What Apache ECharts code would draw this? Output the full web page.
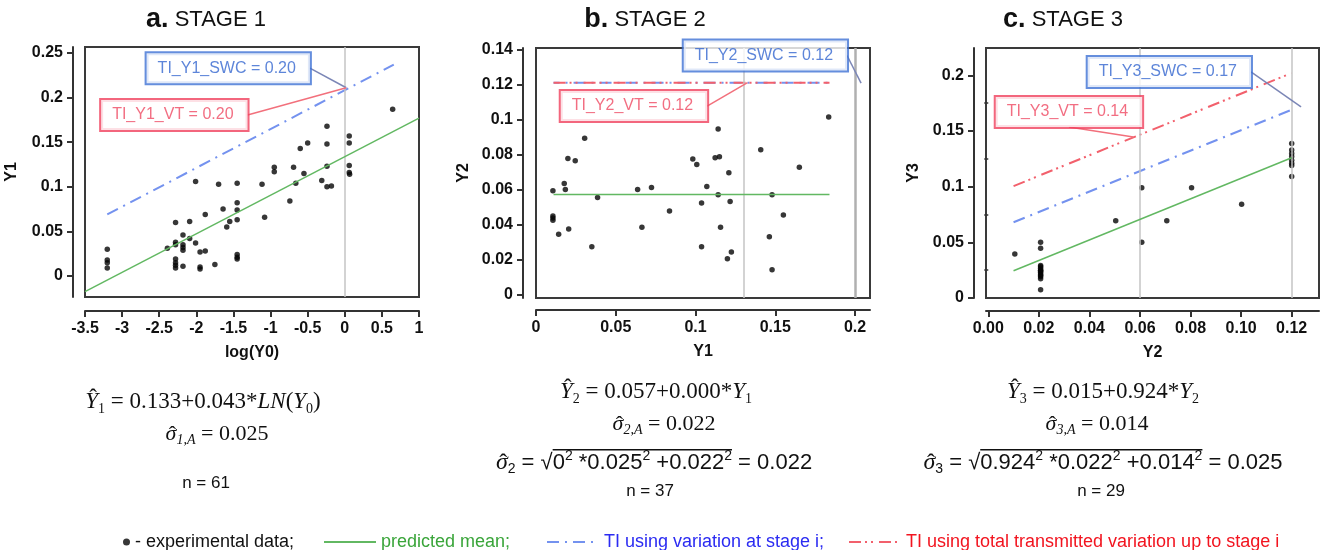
<!DOCTYPE html>
<html><head><meta charset="utf-8">
<script src="https://cdn.jsdelivr.net/npm/echarts@6/dist/echarts.min.js"></script>
<style>html,body{margin:0;padding:0;background:#fff}#c{width:1328px;height:550px}</style>
</head><body><div id="c"></div>
<script>
// ===================== DATA =====================
const stage1Points = [
  [-3.2,0.030],[-3.2,0.018],[-3.2,0.015],[-3.2,0.009],
  [-2.39,0.031],
  [-2.28,0.060],[-2.28,0.038],[-2.28,0.035],[-2.28,0.019],[-2.28,0.015],[-2.28,0.012],[-2.28,0.009],
  [-2.18,0.046],[-2.18,0.035],[-2.18,0.032],[-2.18,0.029],[-2.18,0.011],
  [-2.09,0.061],[-2.09,0.042],
  [-2.01,0.106],[-2.01,0.037],
  [-1.95,0.027],[-1.95,0.010],[-1.95,0.008],
  [-1.88,0.069],[-1.88,0.028],
  [-1.75,0.013],[-1.70,0.103],[-1.64,0.075],[-1.59,0.055],[-1.55,0.061],
  [-1.45,0.104],[-1.45,0.082],[-1.45,0.074],[-1.45,0.063],[-1.45,0.024],[-1.45,0.021],[-1.45,0.019],
  [-1.115,0.103],[-1.08,0.066],
  [-0.95,0.122],[-0.95,0.117],
  [-0.74,0.084],[-0.69,0.122],[-0.66,0.104],[-0.60,0.143],[-0.55,0.115],[-0.50,0.149],
  [-0.31,0.107],
  [-0.24,0.168],[-0.24,0.148],[-0.24,0.123],[-0.24,0.100],[-0.18,0.101],
  [0.06,0.157],[0.06,0.149],[0.06,0.124],[0.06,0.116],[0.065,0.114],
  [0.645,0.187]
];
const stage2Points = [
  [0.0106,0.0592],[0.0106,0.0447],[0.0106,0.0436],[0.0106,0.0423],
  [0.0142,0.0344],[0.0177,0.0633],[0.0184,0.0599],[0.020,0.0776],[0.0205,0.0374],
  [0.0246,0.0764],[0.0305,0.0892],[0.035,0.0272],[0.0386,0.0554],
  [0.0637,0.0599],[0.0664,0.0383],[0.0724,0.0610],[0.0837,0.0477],
  [0.0983,0.0774],[0.1008,0.0742],[0.1038,0.0522],[0.1038,0.0272],[0.1071,0.0616],
  [0.1123,0.0781],[0.115,0.0787],[0.1142,0.0945],[0.1142,0.0569],[0.1157,0.0383],
  [0.1209,0.0695],[0.1217,0.0530],[0.120,0.0203],[0.1225,0.0242],
  [0.1409,0.0826],[0.1463,0.0329],[0.148,0.0569],[0.148,0.0141],
  [0.1551,0.0454],[0.1651,0.0727],[0.1835,0.1014]
];
const stage3Points = [
  [0.0105,0.0396],
  [0.0207,0.050],[0.0207,0.0446],[0.0207,0.0292],[0.0207,0.028],[0.0207,0.0268],[0.0207,0.025],
  [0.0207,0.0247],[0.0207,0.0235],[0.0207,0.0226],[0.0207,0.021],[0.0207,0.0202],[0.0207,0.019],
  [0.0207,0.0173],[0.0207,0.0074],
  [0.0504,0.0693],[0.0607,0.0991],[0.0607,0.050],[0.0706,0.0693],[0.0804,0.0991],[0.1002,0.0842],
  [0.120,0.1387],[0.120,0.133],[0.120,0.1298],[0.120,0.127],[0.120,0.1238],[0.120,0.121],[0.120,0.119],[0.120,0.109]
];
const stage1Mean    = [[-3.5,-0.0175],[1.0,0.177]];
const stage1TiStage = [[-3.2,0.069],[0.66,0.237]];
const stage2Mean    = [[0.011,0.057],[0.184,0.057]];
const stage2TiStage = [[0.011,0.121],[0.184,0.121]];
const stage2TiTotal = [[0.011,0.121],[0.184,0.121]];
const stage3Mean    = [[0.010,0.0245],[0.120,0.126]];
const stage3TiStage = [[0.010,0.068],[0.121,0.170]];
const stage3TiTotal = [[0.010,0.1005],[0.120,0.202]];
const refLines1 = [0];
const refLines2 = [0.1326, 0.2021];
const refLines3 = [0.0574, 0.122];
const ticks1X = [-3.5,-3,-2.5,-2,-1.5,-1,-0.5,0,0.5,1];
const ticks1Y = [0,0.05,0.1,0.15,0.2,0.25];
const ticks2X = [0,0.05,0.1,0.15,0.2];
const ticks2Y = [0,0.02,0.04,0.06,0.08,0.1,0.12,0.14];
const ticks3X = [0,0.02,0.04,0.06,0.08,0.1,0.12];
const ticks3Y = [0,0.05,0.1,0.15,0.2];
const ticks3YMinor = [0.025,0.075,0.125,0.175];
const annotations = [
  {panel:0, kind:'swc', text:'TI_Y1_SWC = 0.20', box:[-0.47,0.233],  pos:'left', anchor:[0.02,0.211]},
  {panel:0, kind:'vt',  text:'TI_Y1_VT = 0.20',  box:[-1.31,0.1805], pos:'left', anchor:[0.02,0.211]},
  {panel:1, kind:'swc', text:'TI_Y2_SWC = 0.12', box:[0.195,0.1365], pos:'left', anchor:[0.2038,0.1207]},
  {panel:1, kind:'vt',  text:'TI_Y2_VT = 0.12',  box:[0.1073,0.1076],pos:'left', anchor:[0.1326,0.121]},
  {panel:2, kind:'swc', text:'TI_Y3_SWC = 0.17', box:[0.1039,0.203], pos:'left', anchor:[0.1237,0.1717]},
  {panel:2, kind:'vt',  text:'TI_Y3_VT = 0.14',  box:[0.0319,0.1536],pos:'top',  anchor:[0.0574,0.1445]}
];
// =======================================================================

const SANS = "'Liberation Sans', Arial, sans-serif";
const SERIF = "'Liberation Serif', 'Times New Roman', serif";
const GREEN = '#62b862', BLUE = '#7492ef', RED = '#f2606c';
const N_PTS = '- experimental data;', N_MEAN = 'predicted mean;',
      N_SWC = 'TI using variation at stage i;', N_VT = 'TI using total transmitted variation up to stage i';
const DASH_SWC = [12,6,2,6], DASH_VT = [12,4,2,4,2,6];

const grids = [
  {left:85, top:47, width:334, height:250},
  {left:536, top:48, width:334, height:250},
  {left:986, top:48, width:333, height:250}
].map(g => Object.assign({show:true, borderColor:'#3a3a3a', borderWidth:2, backgroundColor:'#fff'}, g));

const tickLabel = {color:'#111', fontSize:16, fontWeight:'bold', fontFamily:SANS};
const nameStyle = {color:'#111', fontSize:16, fontWeight:'bold', fontFamily:SANS};
function xAx(i, min, max, ticks, name, offset, fmt) {
  return {gridIndex:i, type:'value', min, max, position:'bottom', offset,
    axisLine:{show:true, onZero:false, lineStyle:{color:'#333', width:2}},
    axisTick:{show:true, length:6, lineStyle:{color:'#333', width:2}, customValues:ticks},
    axisLabel:Object.assign({customValues:ticks, margin:10, formatter:fmt}, tickLabel),
    splitLine:{show:false}, name, nameLocation:'middle', nameGap:34, nameTextStyle:nameStyle};
}
function yAx(i, min, max, ticks, name, offset, nameGap) {
  return {gridIndex:i, type:'value', min, max, position:'left', offset,
    axisLine:{show:true, onZero:false, lineStyle:{color:'#333', width:2}},
    axisTick:{show:true, length:6, lineStyle:{color:'#333', width:2}, customValues:ticks},
    axisLabel:Object.assign({customValues:ticks, margin:10}, tickLabel),
    splitLine:{show:false}, name, nameLocation:'middle', nameGap, nameTextStyle:nameStyle};
}
const xAxes = [
  xAx(0, -3.5, 1, ticks1X, 'log(Y0)', 14),
  xAx(1, 0, 0.2094, ticks2X, 'Y1', 12),
  xAx(2, -0.0009, 0.1308, ticks3X, 'Y2', 13, v => v.toFixed(2))
];
const yAxes = [
  yAx(0, -0.0235, 0.2567, ticks1Y, 'Y1', 12, 53),
  yAx(1, -0.0021, 0.1408, ticks2Y, 'Y2', 13, 51),
  yAx(2, 0, 0.2245, ticks3Y, 'Y3', 12, 52),
  {gridIndex:2, type:'value', min:0, max:0.2245, position:'left', offset:12,
   axisLine:{show:false}, axisTick:{show:true, length:4, lineStyle:{color:'#333', width:1.5}, customValues:ticks3YMinor},
   axisLabel:{show:false}, splitLine:{show:false}}
];

const series = [];
function panel(i, pts, mean, tiS, tiT, refs) {
  series.push({type:'scatter', name:N_PTS, xAxisIndex:i, yAxisIndex:i, data:pts, symbol:'circle', symbolSize:5.5,
    itemStyle:{color:'#050505'}, color:'#050505', z:3,
    markLine:{silent:true, symbol:['none','none'], label:{show:false},
      lineStyle:{color:'#c4c4c4', width:1.5, type:'solid'},
      data: refs.map((v, k) => (i === 1 && k === 1) ? {xAxis:v, lineStyle:{color:'#b0b0b0', width:2.5, type:'solid'}} : {xAxis:v})}});
  if (tiT) series.push({type:'line', name:N_VT, xAxisIndex:i, yAxisIndex:i, data:tiT, symbol:'none', color:RED,
    lineStyle:{color:RED, width:2, type:DASH_VT}, z:4});
  series.push({type:'line', name:N_SWC, xAxisIndex:i, yAxisIndex:i, data:tiS, symbol:'none', color:BLUE,
    lineStyle:{color:BLUE, width:2, type:DASH_SWC, dashOffset:(i===1?6:0)}, z:(i===1?3.5:4)});
  series.push({type:'line', name:N_MEAN, xAxisIndex:i, yAxisIndex:i, data:mean, symbol:'none', color:GREEN,
    lineStyle:{color:GREEN, width:1.5}, z:5});
}
panel(0, stage1Points, stage1Mean, stage1TiStage, null, refLines1);
panel(1, stage2Points, stage2Mean, stage2TiStage, stage2TiTotal, refLines2);
panel(2, stage3Points, stage3Mean, stage3TiStage, stage3TiTotal, refLines3);

annotations.forEach(a => {
  const isS = a.kind === 'swc';
  series.push({type:'line', name:'lead', xAxisIndex:a.panel, yAxisIndex:a.panel, data:[a.box, a.anchor],
    symbol:'none', silent:true, clip:false, lineStyle:{color:isS ? '#7b86b6' : '#f2707c', width:1.5}, z:9});
  series.push({type:'scatter', name:'box', xAxisIndex:a.panel, yAxisIndex:a.panel, data:[a.box], symbolSize:0,
    silent:true, z:10,
    label:{show:true, position:a.pos, distance:0, formatter:a.text, color:isS ? '#3566d0' : '#ef4a63',
      fontSize:16, fontFamily:SANS, backgroundColor:'#fff', borderColor:isS ? '#3f72d4' : '#f0405c',
      borderWidth:2, padding:[6,14,6,11], lineHeight:18}});
});

// ---------- formula / title text rows ----------
const mctx = document.createElement('canvas').getContext('2d');
function textRow(row) {
  const els = []; const items = []; let x = 0, ol0 = 0; const ols = [];
  row.parts.forEach(p => {
    if (p.ol === 'start') { ol0 = x; return; }
    if (p.ol === 'end') { ols.push([ol0, x]); return; }
    const small = p.sub || p.sup;
    const size = p.size || (small ? Math.round(row.size * 0.62) : row.size);
    const fam = p.fam || row.fam;
    const font = (p.it ? 'italic ' : 'normal ') + (p.b ? 'bold ' : 'normal ') + size + 'px ' + fam;
    mctx.font = font;
    const w = mctx.measureText(p.t).width;
    const dy = p.sub ? row.size * 0.3 : p.sup ? -row.size * 0.32 : 0;
    items.push({x, w, p, font, dy, size, fam});
    x += w;
  });
  const x0 = row.cx - x / 2;
  items.forEach(it => {
    els.push({type:'text', silent:true, x:x0 + it.x, y:row.cy + it.dy,
      style:{text:it.p.t, font:it.font, fill:row.color || '#111', align:'left', verticalAlign:'middle'}});
    if (it.p.hat) {
      els.push({type:'text', silent:true, x:x0 + it.x + it.w / 2 + 1.5, y:row.cy - it.size * it.p.hat,
        style:{text:'\u02C6', font:'normal normal ' + it.size + 'px ' + SERIF, fill:'#111', align:'center', verticalAlign:'middle'}});
    }
  });
  ols.forEach(([a, b]) => els.push({type:'line', silent:true,
    shape:{x1:x0 + a, y1:row.cy - row.size * 0.6, x2:x0 + b, y2:row.cy - row.size * 0.6},
    style:{stroke:'#111', lineWidth:1.4}}));
  return els;
}
const HY = 0.12, HS = -0.05;
const rows = [
  {cx:206, cy:20, fam:SANS, size:22, parts:[{t:'a.', b:1, size:27}, {t:' STAGE 1'}]},
  {cx:645, cy:20, fam:SANS, size:22, parts:[{t:'b.', b:1, size:27}, {t:' STAGE 2'}]},
  {cx:1063, cy:20, fam:SANS, size:22, parts:[{t:'c.', b:1, size:27}, {t:' STAGE 3'}]},
  {cx:203, cy:402, fam:SERIF, size:23, parts:[{t:'Y', it:1, hat:HY}, {t:'1', sub:1}, {t:' = 0.133+0.043*'}, {t:'LN', it:1}, {t:'('}, {t:'Y', it:1}, {t:'0', sub:1}, {t:')'}]},
  {cx:217, cy:434, fam:SERIF, size:22, parts:[{t:'σ', it:1, hat:HS}, {t:'1,A', sub:1, it:1}, {t:' = 0.025'}]},
  {cx:206, cy:483, fam:SANS, size:17, parts:[{t:'n = 61'}]},
  {cx:656, cy:392, fam:SERIF, size:23, parts:[{t:'Y', it:1, hat:HY}, {t:'2', sub:1}, {t:' = 0.057+0.000*'}, {t:'Y', it:1}, {t:'1', sub:1}]},
  {cx:664, cy:424, fam:SERIF, size:22, parts:[{t:'σ', it:1, hat:HS}, {t:'2,A', sub:1, it:1}, {t:' = 0.022'}]},
  {cx:654, cy:463, fam:SANS, size:22, parts:[{t:'σ', it:1, hat:HS, fam:SERIF, size:24}, {t:'2', sub:1}, {t:' = '}, {t:'√'}, {ol:'start'}, {t:'0'}, {t:'2', sup:1}, {t:' *0.025'}, {t:'2', sup:1}, {t:' +0.022'}, {t:'2', sup:1}, {ol:'end'}, {t:' = 0.022'}]},
  {cx:650, cy:491, fam:SANS, size:17, parts:[{t:'n = 37'}]},
  {cx:1103, cy:392, fam:SERIF, size:23, parts:[{t:'Y', it:1, hat:HY}, {t:'3', sub:1}, {t:' = 0.015+0.924*'}, {t:'Y', it:1}, {t:'2', sub:1}]},
  {cx:1097, cy:424, fam:SERIF, size:22, parts:[{t:'σ', it:1, hat:HS}, {t:'3,A', sub:1, it:1}, {t:' = 0.014'}]},
  {cx:1103, cy:463, fam:SANS, size:22, parts:[{t:'σ', it:1, hat:HS, fam:SERIF, size:24}, {t:'3', sub:1}, {t:' = '}, {t:'√'}, {ol:'start'}, {t:'0.924'}, {t:'2', sup:1}, {t:' *0.022'}, {t:'2', sup:1}, {t:' +0.014'}, {t:'2', sup:1}, {ol:'end'}, {t:' = 0.025'}]},
  {cx:1101, cy:491, fam:SANS, size:17, parts:[{t:'n = 29'}]}
];
const graphics = [];
rows.forEach(r => graphics.push(...textRow(r)));

const legendText = {fontSize:18, fontFamily:SANS};
const lineLegend = {itemWidth:52, itemHeight:14, selectedMode:false, top:528, itemStyle:{opacity:0}};
const option = {
  animation:false,
  backgroundColor:'#fff',
  grid:grids, xAxis:xAxes, yAxis:yAxes, series,
  legend:[
    {data:[{name:N_PTS, icon:'circle'}], left:118, top:528, itemWidth:7, itemHeight:7, selectedMode:false,
     textStyle:Object.assign({color:'#111'}, legendText)},
    Object.assign({data:[N_MEAN], left:318, textStyle:Object.assign({color:'#3aa53a'}, legendText)}, lineLegend),
    Object.assign({data:[N_SWC], left:541, textStyle:Object.assign({color:'#2b2bf2'}, legendText)}, lineLegend),
    Object.assign({data:[N_VT], left:843, textStyle:Object.assign({color:'#f2141f'}, legendText)}, lineLegend)
  ],
  graphic:graphics
};
const chart = echarts.init(document.getElementById('c'));
chart.setOption(option);
</script></body></html>
